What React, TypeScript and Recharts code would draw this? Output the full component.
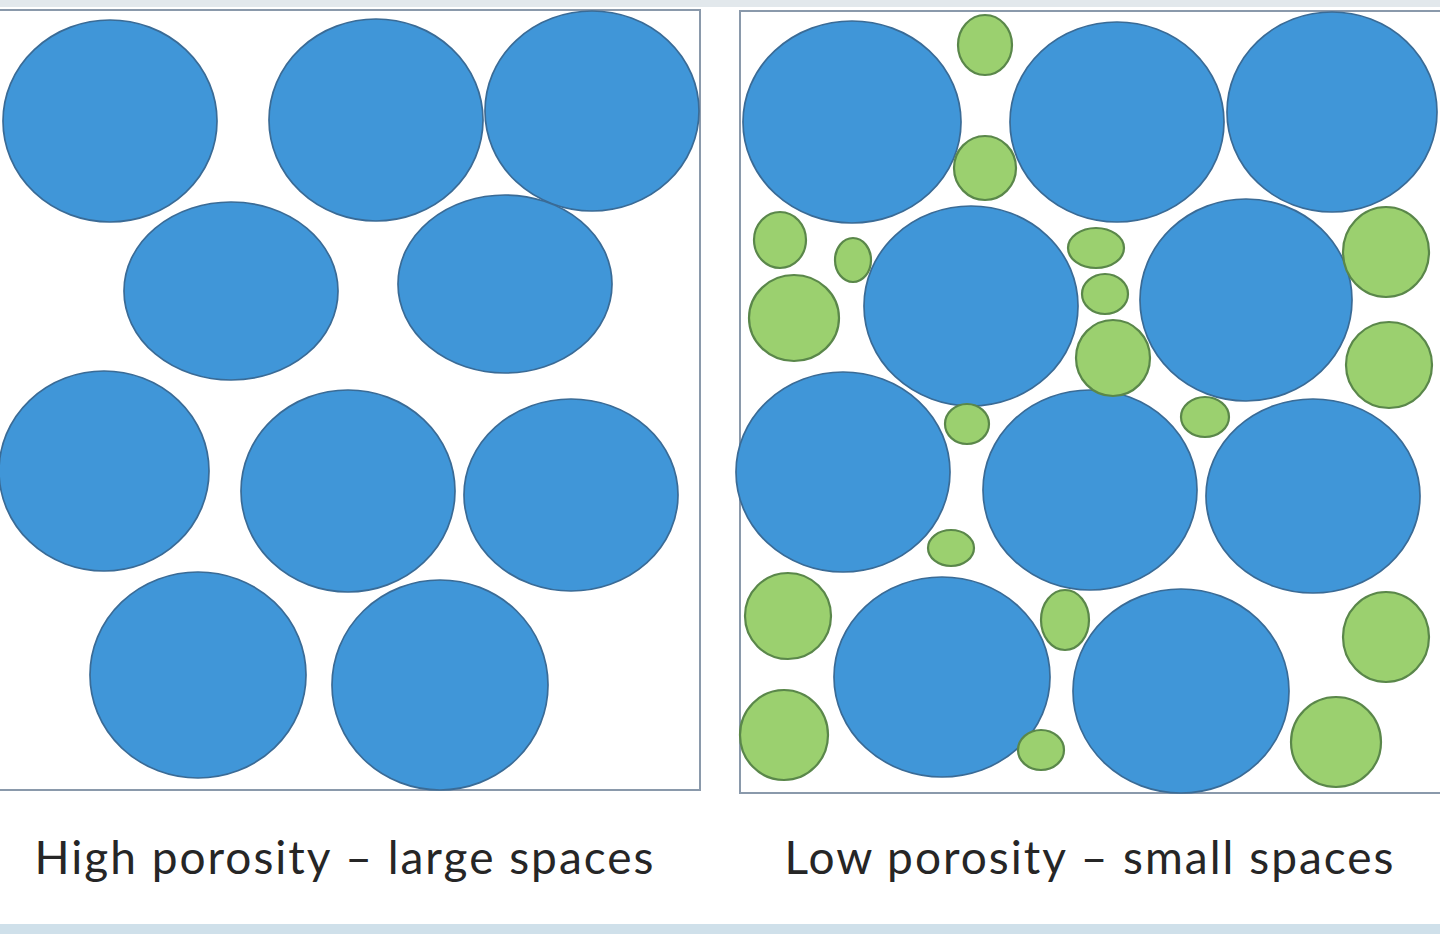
import React from "react";
import {
  ScatterChart,
  Scatter,
  XAxis,
  YAxis,
  ReferenceArea,
  Label,
} from "recharts";

// canvas units: 1 unit = 1 px of the picture
const W = 1440;
const H = 941;

// big grains, high porosity panel (centre x, centre y, radius x, radius y)
const highPorosityGrains = [
  { x: 110, y: 121, rx: 107, ry: 101 },
  { x: 376, y: 120, rx: 107, ry: 101 },
  { x: 592, y: 111, rx: 107, ry: 100 },
  { x: 231, y: 291, rx: 107, ry: 89 },
  { x: 505, y: 284, rx: 107, ry: 89 },
  { x: 104, y: 471, rx: 105, ry: 100 },
  { x: 348, y: 491, rx: 107, ry: 101 },
  { x: 571, y: 495, rx: 107, ry: 96 },
  { x: 198, y: 675, rx: 108, ry: 103 },
  { x: 440, y: 685, rx: 108, ry: 105 },
];

// big grains, low porosity panel
const lowPorosityGrains = [
  { x: 852, y: 122, rx: 109, ry: 101 },
  { x: 1117, y: 122, rx: 107, ry: 100 },
  { x: 1332, y: 112, rx: 105, ry: 100 },
  { x: 971, y: 306, rx: 107, ry: 100 },
  { x: 1246, y: 300, rx: 106, ry: 101 },
  { x: 843, y: 472, rx: 107, ry: 100 },
  { x: 1090, y: 490, rx: 107, ry: 100 },
  { x: 1313, y: 496, rx: 107, ry: 97 },
  { x: 942, y: 677, rx: 108, ry: 100 },
  { x: 1181, y: 691, rx: 108, ry: 102 },
];

// small grains filling the gaps
const lowPorosityFines = [
  { x: 985, y: 45, rx: 27, ry: 30 },
  { x: 985, y: 168, rx: 31, ry: 32 },
  { x: 780, y: 240, rx: 26, ry: 28 },
  { x: 853, y: 260, rx: 18, ry: 22 },
  { x: 794, y: 318, rx: 45, ry: 43 },
  { x: 1096, y: 248, rx: 28, ry: 20 },
  { x: 1105, y: 294, rx: 23, ry: 20 },
  { x: 1113, y: 358, rx: 37, ry: 38 },
  { x: 1386, y: 252, rx: 43, ry: 45 },
  { x: 1389, y: 365, rx: 43, ry: 43 },
  { x: 967, y: 424, rx: 22, ry: 20 },
  { x: 1205, y: 417, rx: 24, ry: 20 },
  { x: 951, y: 548, rx: 23, ry: 18 },
  { x: 1065, y: 620, rx: 24, ry: 30 },
  { x: 788, y: 616, rx: 43, ry: 43 },
  { x: 1386, y: 637, rx: 43, ry: 45 },
  { x: 784, y: 735, rx: 44, ry: 45 },
  { x: 1041, y: 750, rx: 23, ry: 20 },
  { x: 1336, y: 742, rx: 45, ry: 45 },
];

const captions = ["High porosity \u2013 large spaces", "Low porosity \u2013 small spaces"];

const makeEllipse = (fill: string, stroke: string, sw: number) => (props: any) => {
  const { cx, cy, payload } = props;
  return (
    <ellipse
      cx={cx}
      cy={cy}
      rx={payload.rx}
      ry={payload.ry}
      fill={fill}
      stroke={stroke}
      strokeWidth={sw}
    />
  );
};

const BlueGrain = makeEllipse("#4096d8", "#3a6b96", 1.7);
const GreenGrain = makeEllipse("#9bd06f", "#5a874a", 2.2);

const captionStyle = { letterSpacing: "2px" };

export default function App() {
  return (
    <div style={{ position: "absolute", left: 0, top: 0, background: "#fff" }}>
      <ScatterChart
        width={W}
        height={H}
        margin={{ top: 0, right: 0, bottom: 0, left: 0 }}
      >
        <XAxis type="number" dataKey="x" domain={[0, W]} hide />
        <YAxis type="number" dataKey="y" domain={[0, H]} reversed hide />

        <ReferenceArea x1={0} x2={W} y1={0} y2={7} fill="#e2e8ec" fillOpacity={1} stroke="none" />
        <ReferenceArea x1={0} x2={W} y1={924} y2={934} fill="#cfe0ea" fillOpacity={1} stroke="none" />

        <ReferenceArea
          x1={-2} x2={700} y1={10} y2={790}
          fill="#fff" fillOpacity={0} stroke="#8a99ab" strokeWidth={2}
          ifOverflow="visible"
        />
        <ReferenceArea
          x1={740} x2={1442} y1={11} y2={793}
          fill="#fff" fillOpacity={0} stroke="#8a99ab" strokeWidth={2}
          ifOverflow="visible"
        />

        <Scatter data={highPorosityGrains} shape={BlueGrain} isAnimationActive={false} />
        <Scatter data={lowPorosityGrains} shape={BlueGrain} isAnimationActive={false} />
        <Scatter data={lowPorosityFines} shape={GreenGrain} isAnimationActive={false} />

        <ReferenceArea x1={0} x2={690} y1={830} y2={885} fillOpacity={0} stroke="none">
          <Label
            value={captions[0]}
            position="center"
            fill="#262626"
            fontSize={46}
            fontFamily="Lato, 'Open Sans', sans-serif"
            style={captionStyle}
          />
        </ReferenceArea>
        <ReferenceArea x1={740} x2={1440} y1={830} y2={885} fillOpacity={0} stroke="none">
          <Label
            value={captions[1]}
            position="center"
            fill="#262626"
            fontSize={46}
            fontFamily="Lato, 'Open Sans', sans-serif"
            style={captionStyle}
          />
        </ReferenceArea>
      </ScatterChart>
    </div>
  );
}
